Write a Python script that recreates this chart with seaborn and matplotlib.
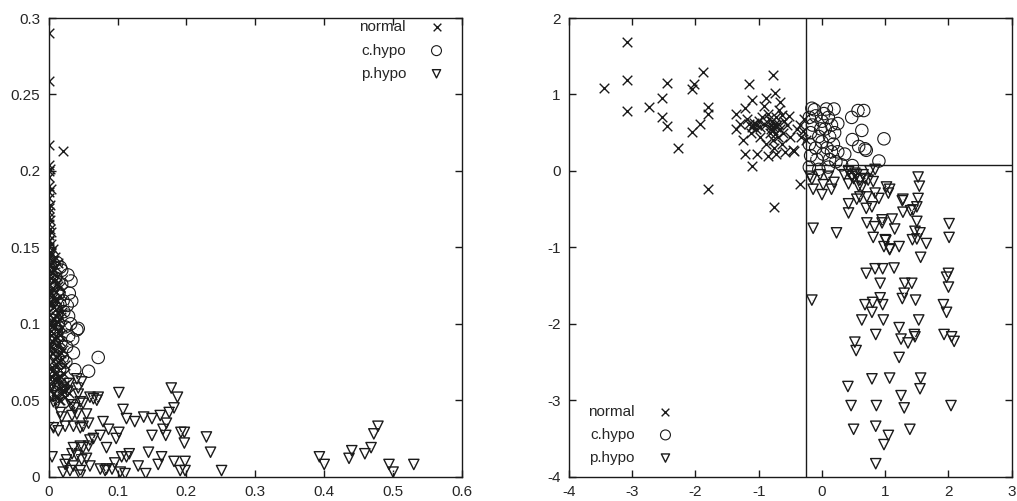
import matplotlib
matplotlib.use("Agg")
import matplotlib.pyplot as plt
import seaborn as sns

# ---------------- left panel data ----------------
left_normal_x = [0.000, 0.000, 0.000, 0.021, 0.001, 0.000, 0.002, 0.000, 0.001, 0.000,
                 0.002, 0.000, 0.001, 0.000, 0.002, 0.000, 0.001, 0.003, 0.000, 0.002,
                 0.004, 0.001, 0.007, 0.002, 0.010, 0.000, 0.005, 0.012, 0.003, 0.008,
                 0.001, 0.014, 0.005, 0.010, 0.002, 0.016, 0.007, 0.012, 0.000, 0.004,
                 0.018, 0.009, 0.013, 0.002, 0.006, 0.015, 0.011, 0.001, 0.019, 0.008,
                 0.004, 0.014, 0.010, 0.001, 0.017, 0.006, 0.012, 0.003, 0.021, 0.009,
                 0.015, 0.002, 0.019, 0.007, 0.011, 0.024, 0.004, 0.016, 0.009, 0.022,
                 0.013, 0.002, 0.018, 0.027, 0.006, 0.014, 0.021, 0.030, 0.010, 0.024,
                 0.017, 0.031, 0.000, 0.009, 0.006, 0.012, 0.000, 0.008, 0.005, 0.013,
                 0.000, 0.005, 0.014, 0.005, 0.010, 0.003, 0.013, 0.017, 0.020, 0.016,
                 0.010, 0.017, 0.023, 0.000,
                 0.001, 0.003, 0.000, 0.002, 0.004, 0.001, 0.006, 0.003, 0.008, 0.002,
                 0.005, 0.009, 0.001, 0.007, 0.011, 0.003, 0.006, 0.010, 0.002, 0.008,
                 0.013, 0.004, 0.009, 0.015, 0.001, 0.007, 0.012, 0.018, 0.005, 0.011,
                 0.016, 0.003, 0.008, 0.014, 0.020, 0.006, 0.012, 0.019, 0.025, 0.015]
left_normal_y = [0.290, 0.259, 0.217, 0.213, 0.204, 0.200, 0.201, 0.190, 0.186, 0.182,
                 0.178, 0.173, 0.170, 0.165, 0.162, 0.158, 0.155, 0.152, 0.150, 0.147,
                 0.145, 0.143, 0.141, 0.139, 0.137, 0.135, 0.133, 0.131, 0.130, 0.128,
                 0.126, 0.125, 0.123, 0.121, 0.120, 0.118, 0.117, 0.115, 0.113, 0.112,
                 0.110, 0.109, 0.107, 0.106, 0.104, 0.103, 0.101, 0.100, 0.098, 0.097,
                 0.095, 0.094, 0.092, 0.091, 0.089, 0.088, 0.086, 0.085, 0.083, 0.082,
                 0.080, 0.079, 0.077, 0.076, 0.074, 0.073, 0.071, 0.070, 0.068, 0.067,
                 0.065, 0.064, 0.062, 0.061, 0.059, 0.058, 0.056, 0.055, 0.053, 0.052,
                 0.050, 0.048, 0.033, 0.144, 0.136, 0.127, 0.119, 0.111, 0.102, 0.096,
                 0.087, 0.081, 0.075, 0.069, 0.063, 0.057, 0.140, 0.124, 0.108, 0.093,
                 0.078, 0.066, 0.060, 0.059,
                 0.196, 0.188, 0.176, 0.168, 0.160, 0.154, 0.149, 0.146, 0.142, 0.138,
                 0.134, 0.129, 0.122, 0.119, 0.116, 0.114, 0.111, 0.105, 0.099, 0.099,
                 0.101, 0.093, 0.090, 0.087, 0.084, 0.084, 0.078, 0.081, 0.072, 0.072,
                 0.070, 0.066, 0.064, 0.063, 0.058, 0.054, 0.052, 0.054, 0.057, 0.050]

left_chypo_x = [0.0325, 0.0335, 0.019, 0.017, 0.029, 0.041, 0.043, 0.029, 0.036, 0.026,
                0.072, 0.038, 0.058, 0.024, 0.021, 0.019, 0.012, 0.010, 0.015, 0.008,
                0.022, 0.014, 0.030, 0.025, 0.018, 0.011, 0.032, 0.006, 0.028, 0.020,
                0.035, 0.016, 0.009, 0.027, 0.013]
left_chypo_y = [0.128, 0.115, 0.135, 0.137, 0.105, 0.096, 0.097, 0.092, 0.081, 0.085,
                0.078, 0.070, 0.069, 0.098, 0.115, 0.126, 0.140, 0.130, 0.120, 0.110,
                0.108, 0.100, 0.120, 0.075, 0.088, 0.095, 0.100, 0.125, 0.132, 0.078,
                0.090, 0.070, 0.085, 0.112, 0.113]

left_phypo_x = [0.102, 0.178, 0.187, 0.182, 0.175, 0.162, 0.150, 0.138, 0.125, 0.113,
                0.108, 0.171, 0.166, 0.170, 0.150, 0.192, 0.197, 0.197, 0.229, 0.235,
                0.251, 0.145, 0.164, 0.159, 0.182, 0.198, 0.191, 0.198, 0.141, 0.130,
                0.117, 0.113, 0.106, 0.096, 0.092, 0.104, 0.111, 0.084, 0.082, 0.075,
                0.102, 0.098, 0.087, 0.079, 0.075, 0.065, 0.060, 0.084, 0.058, 0.050,
                0.046, 0.036, 0.034, 0.026, 0.024, 0.021, 0.041, 0.048, 0.055, 0.060,
                0.046, 0.046, 0.036, 0.031, 0.005, 0.007, 0.014, 0.024, 0.036, 0.046,
                0.050, 0.058, 0.017, 0.019, 0.034, 0.041, 0.050, 0.046, 0.055, 0.060,
                0.065, 0.070, 0.072, 0.043, 0.043, 0.048, 0.041, 0.007, 0.012, 0.004,
                0.393, 0.400, 0.436, 0.440, 0.459, 0.468, 0.472, 0.478, 0.494, 0.500,
                0.530, 0.028, 0.033, 0.021, 0.030, 0.038]
left_phypo_y = [0.055, 0.058, 0.052, 0.045, 0.042, 0.040, 0.038, 0.039, 0.036, 0.038,
                0.044, 0.035, 0.031, 0.027, 0.027, 0.029, 0.029, 0.022, 0.026, 0.016,
                0.004, 0.016, 0.013, 0.008, 0.010, 0.010, 0.004, 0.004, 0.002, 0.007,
                0.015, 0.013, 0.013, 0.009, 0.005, 0.003, 0.002, 0.005, 0.004, 0.005,
                0.029, 0.025, 0.031, 0.036, 0.027, 0.025, 0.024, 0.019, 0.020, 0.019,
                0.020, 0.019, 0.015, 0.011, 0.008, 0.003, 0.014, 0.011, 0.012, 0.007,
                0.004, 0.001, 0.007, 0.004, 0.013, 0.032, 0.030, 0.033, 0.033, 0.032,
                0.033, 0.035, 0.042, 0.039, 0.040, 0.041, 0.048, 0.049, 0.041, 0.052,
                0.051, 0.050, 0.052, 0.054, 0.058, 0.062, 0.064, 0.049, 0.048, 0.053,
                0.013, 0.008, 0.012, 0.017, 0.015, 0.019, 0.028, 0.033, 0.008, 0.003,
                0.008, 0.056, 0.047, 0.058, 0.061, 0.045]

# ---------------- right panel data ----------------
right_normal_x = [-3.09, -3.44, -3.09, -3.09, -2.73, -2.45, -2.53, -2.53, -2.45, -2.27,
                  -2.06, -2.03, -1.88, -1.81, -1.80, -1.93, -2.06, -1.81, -1.16, -0.78,
                  -0.74, -0.76, -0.34, -0.46, -0.44,
                  -1.36, -1.36, -1.22, -1.11, -1.22, -1.02, -1.11, -1.16, -1.09, -1.05,
                  -1.12, -1.00, -0.95, -0.98, -0.90, -0.85, -0.82, -0.77, -0.75, -0.80,
                  -0.72, -0.70, -0.68, -0.66, -0.63, -0.60, -0.58, -0.88, -0.85, -0.76,
                  -0.72, -0.92, -0.62, -0.55, -0.52, -0.50, -1.25, -1.18, -0.78, -0.74,
                  -0.79, -0.81, -0.73, -1.07, -1.10, -1.03, -0.35, -0.30, -0.28, -0.40,
                  -0.33, -0.26, -0.88, -0.67, -1.30, -0.70, -0.84, -0.98, -0.64, -0.77]
right_normal_y = [1.69, 1.09, 1.19, 0.79, 0.83, 1.15, 0.95, 0.71, 0.59, 0.30,
                  1.07, 1.14, 1.30, 0.83, 0.75, 0.61, 0.51, -0.24, 1.14, 1.25,
                  1.02, -0.47, -0.17, 0.27, 0.26,
                  0.75, 0.55, 0.82, 0.93, 0.22, 0.22, 0.07, 0.62, 0.60, 0.55,
                  0.50, 0.65, 0.70, 0.45, 0.60, 0.75, 0.50, 0.58, 0.62, 0.55,
                  0.70, 0.45, 0.80, 0.55, 0.35, 0.65, 0.25, 0.35, 0.20, 0.30,
                  0.22, 0.85, 0.50, 0.60, 0.72, 0.45, 0.40, 0.68, 0.40, 0.48,
                  0.65, 0.60, 0.57, 0.63, 0.58, 0.60, 0.60, 0.52, 0.68, 0.55,
                  0.45, 0.40, 0.95, 0.90, 0.62, 0.62, 0.68, 0.57, 0.73, 0.53]

right_chypo_x = [-0.16, 0.07, 0.19, 0.47, 0.57, 0.66, 0.63, 0.48, 0.58, 0.68,
                 0.70, 0.98, 0.90, 0.36, 0.31, 0.48,
                 -0.20, -0.15, -0.10, 0.00, 0.10, 0.15, -0.18, -0.05, 0.05, 0.12,
                 0.20, -0.20, -0.10, 0.00, 0.08, 0.18, 0.25, -0.18, -0.08, 0.02,
                 0.12, 0.22, -0.20, -0.05, 0.10, 0.03, -0.12, 0.25, 0.15, -0.02]
right_chypo_y = [0.82, 0.81, 0.81, 0.70, 0.79, 0.79, 0.53, 0.41, 0.32, 0.29,
                 0.27, 0.42, 0.13, 0.22, 0.08, 0.07,
                 0.70, 0.60, 0.72, 0.65, 0.70, 0.60, 0.50, 0.45, 0.55, 0.45,
                 0.50, 0.35, 0.30, 0.38, 0.30, 0.35, 0.25, 0.20, 0.15, 0.22,
                 0.15, 0.12, 0.05, 0.02, 0.05, 0.75, 0.80, 0.62, 0.25, 0.55]

right_phypo_x = [1.52, 1.54, 1.52, 1.27, 1.50, 1.44, 1.40, 1.28, 1.50, 2.01,
                 2.01, -0.14, 0.23, 0.71, 0.83, 0.95, 0.95, 1.11, 1.15, 0.81,
                 1.01, 0.98, 1.07, 1.22, 1.47, 1.55, 1.50, 1.43, 1.65, 1.56,
                 0.70, 0.84, 0.96, 1.14, 2.00, 1.97, 2.00, 0.92, 1.31, 1.42,
                 1.30, -0.16, 0.92, 0.80, 0.68, 0.96, 1.27, 1.48, 0.79, 1.92,
                 1.97, 0.63, 0.97, 1.53, 1.22, 0.85, 1.25, 1.36, 1.46, 1.47,
                 1.93, 2.05, 2.09, 0.52, 0.54, 1.22, 0.79, 1.07, 1.56, 1.55,
                 0.41, 1.25, 0.46, 0.86, 1.30, 2.04, 0.50, 0.85, 1.39, 1.05,
                 0.98, 0.85,
                 -0.19, -0.16, -0.03, 0.10, -0.14, 0.00, 0.02, 0.15, 0.19, 0.42,
                 0.47, 0.55, 0.42, 0.60, 0.65, 0.76, 0.84, 0.73, 0.81, 0.63,
                 0.60, 0.71, 0.55, 0.42, 0.42, 0.70, 0.79, 0.84, 0.90, 1.02,
                 1.05, 1.07, 1.28, 1.00, 1.07, 0.50, 0.52, 0.68, 0.58, 0.35]
right_phypo_y = [-0.08, -0.20, -0.36, -0.39, -0.47, -0.51, -0.52, -0.54, -0.66, -0.69,
                 -0.87, -0.75, -0.81, -0.68, -0.73, -0.64, -0.68, -0.63, -0.76, -0.87,
                 -0.91, -0.99, -1.02, -0.99, -0.79, -0.81, -0.89, -0.90, -0.95, -1.13,
                 -1.34, -1.28, -1.28, -1.27, -1.34, -1.39, -1.52, -1.47, -1.47, -1.47,
                 -1.60, -1.69, -1.66, -1.72, -1.75, -1.75, -1.67, -1.69, -1.85, -1.75,
                 -1.85, -1.95, -1.95, -1.95, -2.05, -2.14, -2.20, -2.25, -2.14, -2.17,
                 -2.14, -2.17, -2.23, -2.24, -2.35, -2.44, -2.72, -2.71, -2.71, -2.85,
                 -2.82, -2.94, -3.07, -3.07, -3.10, -3.07, -3.38, -3.34, -3.38, -3.46,
                 -3.58, -3.83,
                 -0.07, -0.11, -0.05, -0.07, -0.24, -0.31, -0.18, -0.24, -0.15, -0.01,
                 -0.07, -0.05, -0.17, -0.12, -0.05, 0.00, 0.02, -0.12, -0.14, -0.21,
                 -0.34, -0.34, -0.37, -0.43, -0.55, -0.49, -0.47, -0.29, -0.36, -0.21,
                 -0.29, -0.24, -0.37, -0.90, -1.03, -0.10, -0.03, -0.10, -0.20, -0.05]

# decision boundaries drawn on the right panel
split_x = -0.25
split_y = 0.08

left_xticks = [0, 0.1, 0.2, 0.3, 0.4, 0.5, 0.6]
left_xticklabels = ["0", "0.1", "0.2", "0.3", "0.4", "0.5", "0.6"]
left_yticks = [0, 0.05, 0.1, 0.15, 0.2, 0.25, 0.3]
left_yticklabels = ["0", "0.05", "0.1", "0.15", "0.2", "0.25", "0.3"]
right_xticks = [-4, -3, -2, -1, 0, 1, 2, 3]
right_yticks = [-4, -3, -2, -1, 0, 1, 2]

sns.set_style("ticks")
plt.rcParams["font.family"] = ["Liberation Sans", "DejaVu Sans"]
plt.rcParams["font.size"] = 11
plt.rcParams["axes.unicode_minus"] = False

fig = plt.figure(figsize=(10.17, 5.01), dpi=100)
ax_l = fig.add_axes([0.0478, 0.0485, 0.4065, 0.9155])
ax_r = fig.add_axes([0.5595, 0.0485, 0.4353, 0.9155])

INK = "#1a1a1a"


def draw_groups(ax, nx, ny, cx, cy, px, py):
    sns.scatterplot(x=nx, y=ny, ax=ax, marker="x", s=48, color=INK,
                    linewidth=1.0, label="normal", zorder=3)
    sns.scatterplot(x=cx, y=cy, ax=ax, marker="o", s=80, color=INK,
                    facecolor="none", edgecolor=INK, linewidth=0.8,
                    label="c.hypo", zorder=3)
    sns.scatterplot(x=cx, y=cy, ax=ax, marker=".", s=2, color="#555555",
                    linewidth=0, legend=False, zorder=3)
    sns.scatterplot(x=px, y=py, ax=ax, marker="v", s=55, color=INK,
                    facecolor="none", edgecolor=INK, linewidth=1.0,
                    label="p.hypo", zorder=3)
    sns.scatterplot(x=px, y=py, ax=ax, marker=".", s=2, color="#555555",
                    linewidth=0, legend=False, zorder=3)


def style_axes(ax):
    for sp in ax.spines.values():
        sp.set_visible(True)
        sp.set_linewidth(1.0)
        sp.set_color(INK)
    ax.tick_params(direction="in", top=True, right=True, length=5,
                   width=1.0, color=INK, labelsize=11, pad=6)
    ax.set_xlabel("")
    ax.set_ylabel("")


def add_legend(ax, **kw):
    leg = ax.legend(frameon=False, markerfirst=False, fontsize=11,
                    labelspacing=0.6, handletextpad=1.0,
                    markerscale=0.8, borderaxespad=0.0, **kw)
    return leg


draw_groups(ax_l, left_normal_x, left_normal_y, left_chypo_x, left_chypo_y,
            left_phypo_x, left_phypo_y)
ax_l.set_xlim(0, 0.6)
ax_l.set_ylim(0, 0.3)
ax_l.set_xticks(left_xticks)
ax_l.set_xticklabels(left_xticklabels)
ax_l.set_yticks(left_yticks)
ax_l.set_yticklabels(left_yticklabels)
style_axes(ax_l)
add_legend(ax_l, loc="upper right", bbox_to_anchor=(0.99, 1.008))

draw_groups(ax_r, right_normal_x, right_normal_y, right_chypo_x, right_chypo_y,
            right_phypo_x, right_phypo_y)
ax_r.axvline(split_x, color=INK, linewidth=1.0, zorder=2)
ax_r.hlines(split_y, split_x, 3, color=INK, linewidth=1.0, zorder=2)
ax_r.set_xlim(-4, 3)
ax_r.set_ylim(-4, 2)
ax_r.set_xticks(right_xticks)
ax_r.set_yticks(right_yticks)
style_axes(ax_r)
add_legend(ax_r, loc="lower left", bbox_to_anchor=(0.03, 0.012))

fig.savefig("out.png", dpi=100, facecolor="white")
